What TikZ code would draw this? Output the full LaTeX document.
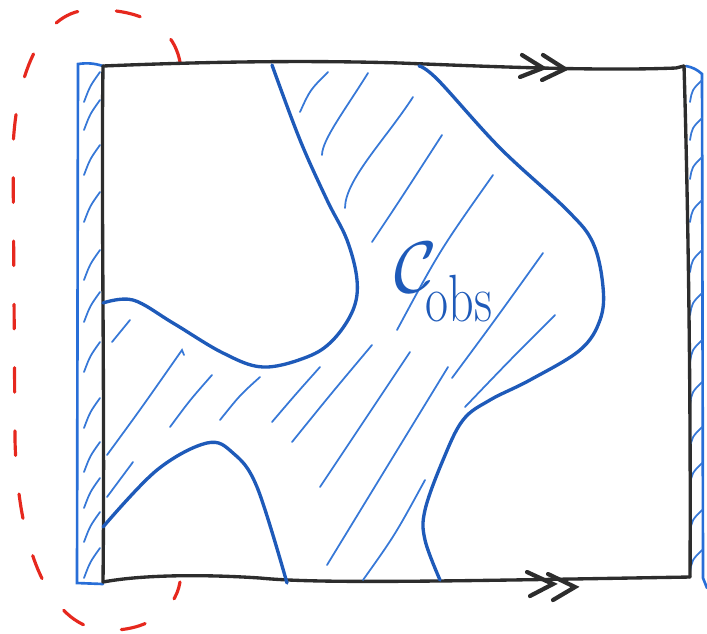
\documentclass[tikz,border=0pt]{standalone}
\usetikzlibrary{calc}
\definecolor{inkblack}{RGB}{45,45,45}
\definecolor{outblue}{RGB}{30,90,185}
\definecolor{hatchblue}{RGB}{55,120,215}
\definecolor{stripblue}{RGB}{40,110,215}
\definecolor{inkred}{RGB}{230,40,30}
\tikzset{
  frame/.style={draw=inkblack, line width=0.95pt, line cap=round, line join=round},
  chevron/.style={draw=inkblack, line width=1.2pt, line cap=round, line join=miter},
  outline/.style={draw=outblue, line width=0.95pt, line cap=round},
  hatch/.style={draw=hatchblue, line width=0.5pt, line cap=round},
  strip/.style={draw=stripblue, line width=0.75pt, line cap=round},
  loopline/.style={draw=inkred, line width=0.9pt, dash pattern=on 7pt off 11pt, line cap=round},
  labeltext/.style={text=outblue, inner sep=0pt}
}
\begin{document}
\begin{tikzpicture}[x=0.01cm,y=-0.01cm]
\useasboundingbox (0,0) rectangle (707,633);

% red dashed loop around the left edge
\draw[loopline] (180,62) .. controls (172,20) and (130,8) .. (88,10)
  .. controls (40,12) and (15,80) .. (13,150) -- (15,440)
  .. controls (18,560) and (55,628) .. (105,630)
  .. controls (145,632) and (175,612) .. (180,582);

% left blue strip
\draw[strip] (103,66) to[bend right=12] (78,64) -- (77,583) -- (103,584);
\foreach \y in {72,100,145,192,250,292,342,398,442,478,512,548}
  \draw[hatch] (84,\y+30) .. controls (90,\y+14) .. (100,\y);

% right blue strip
\draw[strip] (686,66) to[bend left=15] (702,74) -- (703,578) -- (707,588);
\foreach \y in {80,118,157,200,250,293,340,382,427,463,510,550}
  \draw[hatch] (690,\y+22) .. controls (692,\y+10) .. (702,\y);

% black square
\coordinate (tl) at (103,66);
\coordinate (tr) at (684,66);
\coordinate (bl) at (103,582);
\coordinate (br) at (690,577);
\draw[frame] (tl) .. controls (200,62) and (300,60) .. (400,63)
  .. controls (500,67) and (600,71) .. (676,68) -- (tr);
\draw[frame] (tr) .. controls (688,200) and (691,400) .. (br);
\draw[frame] (bl) .. controls (140,575) and (200,574) .. (260,578)
  .. controls (320,584) and (450,581) .. (br);
\draw[frame] (tl) .. controls (101,200) and (105,400) .. (bl);

% double chevrons
\draw[chevron] (522,55) -- (543,68) -- (520,77);
\draw[chevron] (543,55) -- (565,69) -- (542,80);
\draw[chevron] (527,572) -- (553,584) -- (530,596);
\draw[chevron] (548,574) -- (575,587) -- (553,600);

% obstacle outlines
\draw[outline] plot[smooth, tension=0.6] coordinates {(103,303) (133,300) (173,323) (223,353) (263,367) (307,357) (333,340) (353,310) (357,280) (347,240) (327,200) (300,140) (272,65)};
\draw[outline] plot[smooth, tension=0.6] coordinates {(419,66) (438,80) (500,148) (567,210) (593,243) (603,287) (600,320) (580,350) (530,380) (490,400) (463,420) (443,460) (425,510) (425,540) (440,580)};
\draw[outline] plot[smooth, tension=0.6] coordinates {(103,527) (157,470) (207,443) (233,453) (257,487) (287,583)};

% hatching of the obstacle region
\draw[hatch] (300,112) .. controls (310,90) .. (328,72);
\draw[hatch] (322,155) .. controls (322,140) and (345,110) .. (368,73);
\draw[hatch] (345,208) .. controls (345,180) and (385,140) .. (413,97);
\draw[hatch] (372,242) .. controls (400,200) .. (442,135);
\draw[hatch] (397,330) .. controls (440,250) .. (493,175);
\draw[hatch] (452,378) .. controls (495,320) .. (543,253);
\draw[hatch] (465,407) .. controls (510,360) .. (555,315);
\draw[hatch] (112,342) -- (130,320);
\draw[hatch] (107,455) .. controls (140,410) .. (182,350) -- (184,355);
\draw[hatch] (170,427) .. controls (190,400) .. (212,375);
\draw[hatch] (220,420) .. controls (240,395) .. (260,377);
\draw[hatch] (272,422) .. controls (295,395) .. (320,367);
\draw[hatch] (292,442) .. controls (330,395) .. (372,345);
\draw[hatch] (320,487) .. controls (365,420) .. (410,352);
\draw[hatch] (327,565) .. controls (385,470) .. (448,367);
\draw[hatch] (363,580) .. controls (395,535) .. (425,480);
\draw[hatch] (107,497) -- (133,462);

% label
\node[labeltext] (cobsC) at (416,268) {\fontsize{20}{24}\selectfont$\mathcal{C}$};
\node[labeltext, xscale=0.75] (cobsSub) at (459,299) {\fontsize{19}{22}\selectfont obs};
\end{tikzpicture}
\end{document}
